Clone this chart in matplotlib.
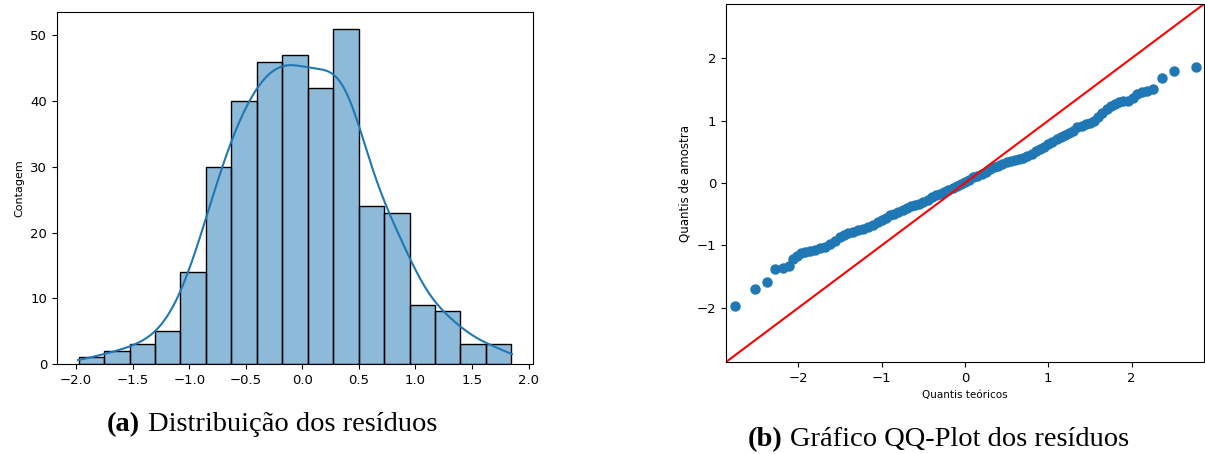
import numpy as np
import matplotlib
matplotlib.use("Agg")
import matplotlib.pyplot as plt
import seaborn as sns

# histograma dos residuos (contagens lidas por barra)
bordas = np.linspace(-1.978, 1.848, 18)
contagens = [1, 2, 3, 5, 14, 30, 40, 46, 47, 42, 51, 24, 23, 9, 8, 3, 3]
hist_xticks = [-2.0, -1.5, -1.0, -0.5, 0.0, 0.5, 1.0, 1.5, 2.0]
hist_yticks = [0, 10, 20, 30, 40, 50]

# QQ-plot: quantis teoricos x quantis de amostra
teoricos = [-2.76, -2.52, -2.38, -2.28, -2.18, -2.11, -2.06, -2.02, -1.97, -1.92,
            -1.86, -1.80, -1.74, -1.68, -1.62, -1.56, -1.50, -1.45, -1.40, -1.34,
            -1.28, -1.22, -1.16, -1.10, -1.05, -1.00, -0.95, -0.90, -0.85, -0.80,
            -0.75, -0.70, -0.65, -0.60, -0.55, -0.50, -0.45, -0.40, -0.35, -0.30,
            -0.25, -0.20, -0.15, -0.10, -0.05, 0.00, 0.05, 0.10, 0.15, 0.20,
            0.25, 0.30, 0.35, 0.40, 0.45, 0.50, 0.55, 0.60, 0.65, 0.70,
            0.75, 0.80, 0.85, 0.90, 0.95, 1.00, 1.05, 1.10, 1.15, 1.20,
            1.25, 1.30, 1.35, 1.40, 1.45, 1.50, 1.55, 1.60, 1.65, 1.70,
            1.75, 1.80, 1.85, 1.90, 1.96, 2.02, 2.07, 2.12, 2.19, 2.26,
            2.37, 2.51, 2.77]
amostra = [-1.97, -1.70, -1.58, -1.38, -1.36, -1.33, -1.22, -1.17, -1.13, -1.10,
           -1.09, -1.07, -1.05, -1.02, -0.98, -0.93, -0.87, -0.83, -0.80, -0.78,
           -0.75, -0.73, -0.70, -0.67, -0.63, -0.60, -0.56, -0.52, -0.49, -0.46,
           -0.43, -0.40, -0.37, -0.35, -0.33, -0.30, -0.27, -0.23, -0.19, -0.17,
           -0.15, -0.12, -0.08, -0.05, -0.02, 0.01, 0.05, 0.09, 0.12, 0.15,
           0.18, 0.22, 0.25, 0.28, 0.31, 0.33, 0.35, 0.37, 0.38, 0.40,
           0.43, 0.47, 0.51, 0.55, 0.58, 0.62, 0.66, 0.70, 0.74, 0.77,
           0.80, 0.84, 0.89, 0.92, 0.95, 0.97, 1.00, 1.06, 1.13, 1.18,
           1.23, 1.27, 1.30, 1.31, 1.32, 1.37, 1.42, 1.46, 1.48, 1.51,
           1.69, 1.79, 1.86]
qq_ticks = [-2, -1, 0, 1, 2]
qq_lim = (-2.87, 2.87)

fig = plt.figure(figsize=(12.05, 4.54), dpi=100)
W, H = 1205, 454

def caixa(x0, y0, x1, y1):
    return [x0 / W, 1 - y1 / H, (x1 - x0) / W, (y1 - y0) / H]

# (a) histograma + kde
ax1 = fig.add_axes(caixa(57, 12, 533, 364))
centros = (bordas[:-1] + bordas[1:]) / 2
residuos = np.repeat(centros, contagens)
sns.histplot(x=residuos, bins=bordas, kde=True, ax=ax1, color="#1f77b4",
             edgecolor="black", linewidth=1.0, alpha=0.5,
             kde_kws={"cut": 0.6}, line_kws={"linewidth": 1.5})
ax1.set_xticks(hist_xticks)
ax1.set_yticks(hist_yticks)
ax1.set_xlim(-2.169, 2.039)
ax1.set_ylim(0, 53.55)
ax1.set_xlabel("")
ax1.set_ylabel("Contagem", fontsize=8)
ax1.tick_params(labelsize=9.5)

# (b) QQ-plot
ax2 = fig.add_axes(caixa(726, 4, 1204, 362))
ax2.plot(teoricos, amostra, "o", color="#1f77b4", ms=6.5)
ax2.plot(qq_lim, qq_lim, color="red", linewidth=1.5)
ax2.set_xlim(qq_lim)
ax2.set_ylim(qq_lim)
ax2.set_xticks(qq_ticks)
ax2.set_yticks(qq_ticks)
ax2.set_xlabel("Quantis teóricos", fontsize=7.5)
ax2.set_ylabel("Quantis de amostra", fontsize=8.5)
ax2.tick_params(labelsize=9.5)

# legendas das subfiguras
serif = "Liberation Serif"
fig.text(107 / W, 1 - 431 / H, "(a)", fontsize=20.5, fontweight="bold",
         family=serif, ha="left", va="baseline")
fig.text(148 / W, 1 - 431 / H, "Distribuição dos resíduos", fontsize=20.5,
         family=serif, ha="left", va="baseline")
fig.text(748 / W, 1 - 446 / H, "(b)", fontsize=20.5, fontweight="bold",
         family=serif, ha="left", va="baseline")
fig.text(790 / W, 1 - 446 / H, "Gráfico QQ-Plot dos resíduos", fontsize=20.5,
         family=serif, ha="left", va="baseline")

fig.savefig("out.png", dpi=100)
